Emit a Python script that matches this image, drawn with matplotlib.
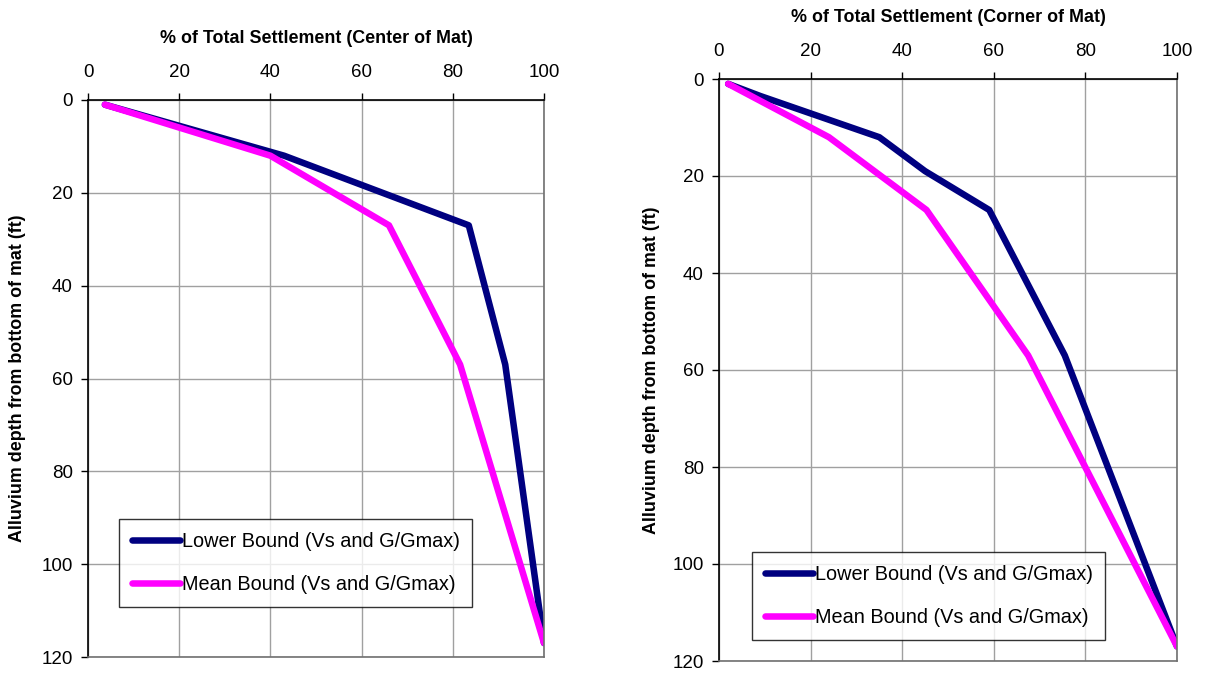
import matplotlib
matplotlib.use("Agg")
import matplotlib.pyplot as plt

plt.rcParams['font.family'] = ['Liberation Sans', 'DejaVu Sans']

# Center of mat
center_lower_x = [3.7, 43, 83.5, 91.5, 100]
center_lower_y = [1, 12, 27, 57, 117]
center_mean_x = [3.7, 40, 66, 81.6, 100]
center_mean_y = [1, 12, 27, 57, 117]

# Corner of mat
corner_lower_x = [2, 9, 35, 45, 59, 75.5, 100]
corner_lower_y = [1, 3.5, 12, 19, 27, 57, 117]
corner_mean_x = [2, 24, 45.3, 67.5, 100]
corner_mean_y = [1, 12, 27, 57, 117]

xticks = [0, 20, 40, 60, 80, 100]
yticks = [0, 20, 40, 60, 80, 100, 120]

W, H = 1211, 673
fig = plt.figure(figsize=(W / 100, H / 100), dpi=100)

panels = [
    # (left, right, top, bottom) in px, data, title, legend box (left, top) px
    ((88, 544, 100, 657), center_lower_x, center_lower_y, center_mean_x, center_mean_y,
     "% of Total Settlement (Center of Mat)", (119, 519), 18),
    ((719, 1177, 79, 661), corner_lower_x, corner_lower_y, corner_mean_x, corner_mean_y,
     "% of Total Settlement (Corner of Mat)", (752, 552), 651),
]

for box, lx, ly, mx, my, title, leg, ylab_x in panels:
    l, r, t, b = box
    ax = fig.add_axes([l / W, 1 - b / H, (r - l) / W, (b - t) / H])
    ax.plot(lx, ly, color='#000080', lw=4.7, solid_capstyle='round',
            label='Lower Bound (Vs and G/Gmax)')
    ax.plot(mx, my, color='#FF00FF', lw=4.7, solid_capstyle='round',
            label='Mean Bound (Vs and G/Gmax)')
    ax.set_xlim(0, 100)
    ax.set_ylim(120, 0)
    ax.set_xticks(xticks)
    ax.set_yticks(yticks)
    ax.xaxis.tick_top()
    ax.xaxis.set_label_position('top')
    ax.tick_params(direction='out', length=5, width=1, labelsize=13.5)
    ax.tick_params(axis='x', pad=9)
    ax.tick_params(axis='y', pad=6)
    ax.grid(True, color='#a0a0a0', lw=1)
    ax.set_axisbelow(True)
    for s in ['top', 'left']:
        ax.spines[s].set_color('black')
        ax.spines[s].set_linewidth(1.2)
    for s in ['right', 'bottom']:
        ax.spines[s].set_color('#707070')
        ax.spines[s].set_linewidth(1.2)
    ax.set_xlabel(title, fontsize=12.9, fontweight='bold', labelpad=15)
    fig.text(ylab_x / W, 1 - ((t + b) / 2) / H, "Alluvium depth from bottom of mat (ft)",
             rotation=90, ha='center', va='center', fontsize=12.9, fontweight='bold')
    lg = ax.legend(loc='upper left', bbox_to_anchor=(leg[0] / W, 1 - leg[1] / H),
                   bbox_transform=fig.transFigure, fontsize=14.3, frameon=True,
                   fancybox=False, edgecolor='black', handlelength=2.4,
                   handletextpad=0.1, borderpad=0.65, labelspacing=1.2,
                   borderaxespad=0)
    lg.get_frame().set_linewidth(1)

fig.savefig("out.png", dpi=100)
